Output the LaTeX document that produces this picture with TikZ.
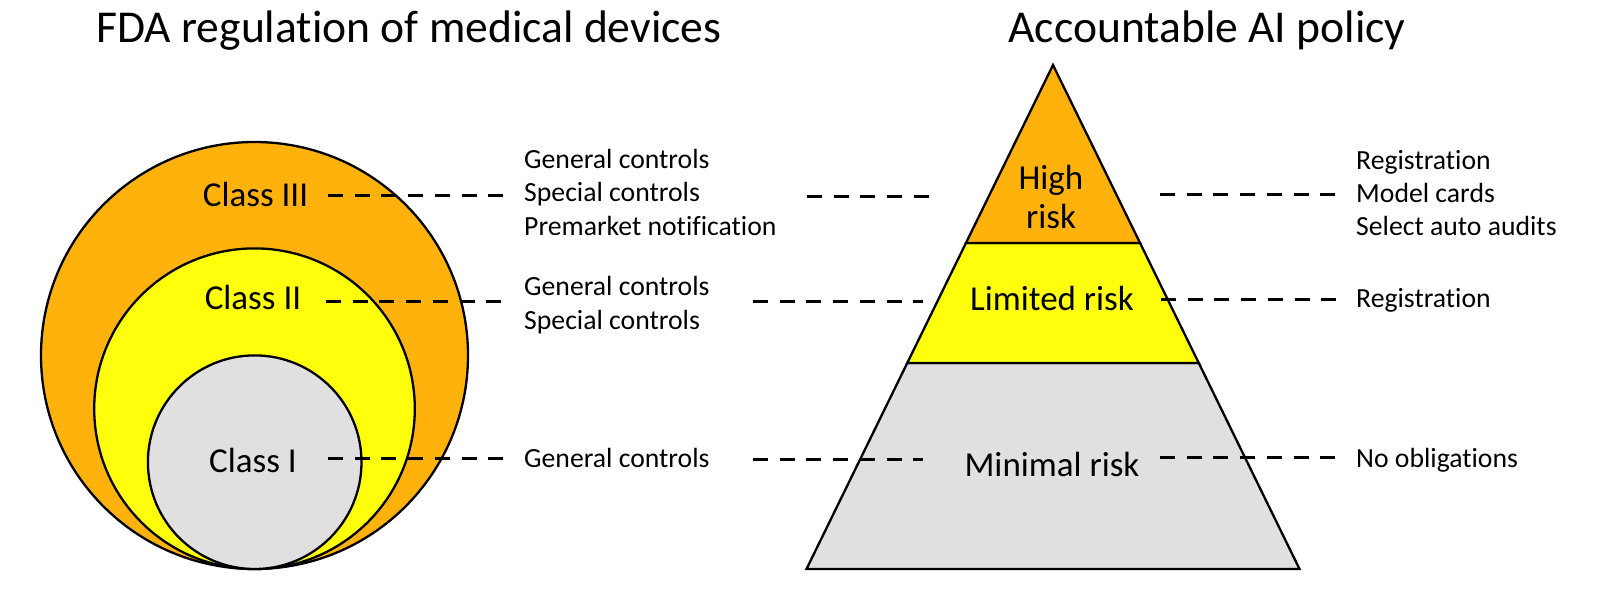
\documentclass[tikz,border=0pt]{standalone}
\usepackage{fontspec}
\setmainfont{Carlito}[Ligatures={NoCommon},RawFeature={-calt}]
\usetikzlibrary{calc}
\definecolor{cOrange}{HTML}{FFB20B}
\definecolor{cYellow}{HTML}{FFFF0C}
\definecolor{cGray}{HTML}{E1DFE0}
\begin{document}
\begin{tikzpicture}[x=1pt,y=-1pt,
  region/.style={draw=black,line width=2.3pt,line join=miter},
  dashline/.style={line width=3pt,dash pattern=on 15pt off 11.7pt},
  ttl/.style={font=\fontsize{45.6}{50}\selectfont,inner sep=0pt,anchor=base},
  lab/.style={font=\fontsize{35}{40}\selectfont,inner sep=0pt,anchor=base},
  side/.style={font=\fontsize{27.7}{32}\selectfont,inner sep=0pt,anchor=base west}]
\useasboundingbox (0,0) rectangle (1600,598);

% circles
\draw[region,fill=cOrange] (254.5,355.5) circle[radius=213.5pt];
\draw[region,fill=cYellow] (254.5,408.7) circle[radius=160.3pt];
\draw[region,fill=cGray] (254.7,462.2) circle[radius=106.8pt];

% pyramid
\coordinate (A) at (1053,65);
\coordinate (BL) at (806.5,569);
\coordinate (BR) at (1299.5,569);
\coordinate (L1) at ($(A)!0.3532!(BL)$);
\coordinate (R1) at ($(A)!0.3532!(BR)$);
\coordinate (L2) at ($(A)!0.5913!(BL)$);
\coordinate (R2) at ($(A)!0.5913!(BR)$);
\draw[region,fill=cGray] (L2) -- (R2) -- (BR) -- (BL) -- cycle;
\draw[region,fill=cYellow] (L1) -- (R1) -- (R2) -- (L2) -- cycle;
\draw[region,fill=cOrange] (A) -- (R1) -- (L1) -- cycle;

% titles
\node[ttl] (t1) at (409,42) {FDA regulation of medical devices};
\node[ttl] (t2) at (1207,42.5) {Accountable AI policy};

% labels
\node[lab] (c3) at (255.5,206) {Class III};
\node[lab] (c2) at (253,309.3) {Class II};
\node[lab] (c1) at (253,472.7) {Class I};
\node[lab] (hr) at (1051,189.3) {High};
\node[lab] (hr2) at (1051,228) {risk};
\node[lab] (lr) at (1052,310.8) {Limited risk};
\node[lab] (mr) at (1052,476) {Minimal risk};

% side texts
\node[side] (g1) at (524,168) {General controls};
\node[side] (g2) at (524,201.3) {Special controls};
\node[side] (g3) at (524,235) {Premarket notification};
\node[side] (g4) at (524,295.5) {General controls};
\node[side] (g5) at (524,329) {Special controls};
\node[side] (g6) at (524,467.5) {General controls};
\node[side] (p1) at (1356,169) {Registration};
\node[side] (p2) at (1356,202) {Model cards};
\node[side] (p3) at (1356,235.5) {Select auto audits};
\node[side] (p4) at (1356,307.5) {Registration};
\node[side] (p5) at (1356,467) {No obligations};

% dashed connectors
\coordinate (a1) at (328,195);  \coordinate (b1) at (505,195);
\coordinate (a2) at (326,301);  \coordinate (b2) at (502,301);
\coordinate (a3) at (328,458);  \coordinate (b3) at (505,458);
\coordinate (e1) at (807,196);  \coordinate (f1) at (929,196);
\coordinate (e2) at (753,301);  \coordinate (f2) at (923,301);
\coordinate (e3) at (753,459);  \coordinate (f3) at (923,459);
\coordinate (h1) at (1160,194); \coordinate (k1) at (1336,194);
\coordinate (h2) at (1161,299); \coordinate (k2) at (1336,299);
\coordinate (h3) at (1160,457); \coordinate (k3) at (1336,457);
\foreach \s/\e in {a1/b1,a2/b2,a3/b3,e1/f1,e2/f2,e3/f3,h1/k1,h2/k2,h3/k3}
  \draw[dashline] (\s) -- (\e);
\end{tikzpicture}
\end{document}
